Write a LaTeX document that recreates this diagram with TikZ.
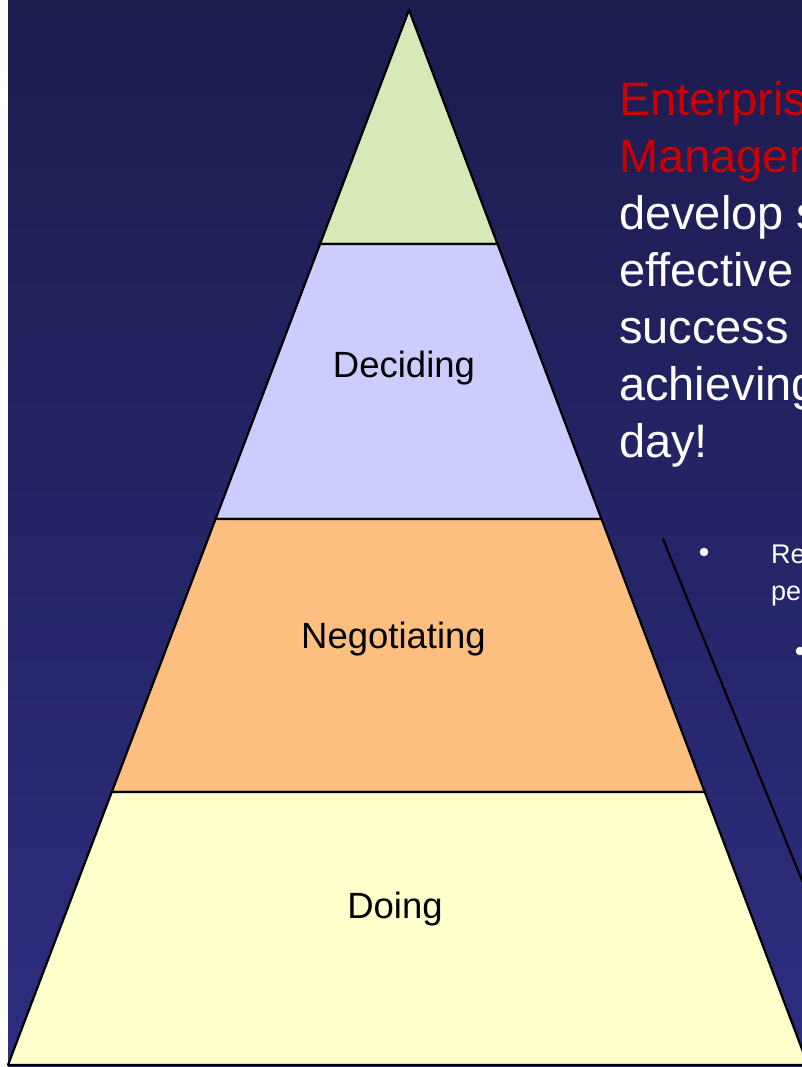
\documentclass[tikz,border=0pt]{standalone}
\usepackage{fontspec}
\setmainfont{Liberation Sans}
\usetikzlibrary{calc}
\definecolor{bgtop}{HTML}{1D1C4F}
\definecolor{bgbot}{HTML}{2D2D80}
\definecolor{tipgreen}{HTML}{D7E9B6}
\definecolor{decidefill}{HTML}{CCCCFF}
\definecolor{negofill}{HTML}{FDBF80}
\definecolor{dofill}{HTML}{FFFFCC}
\definecolor{riskred}{HTML}{CC0000}
\begin{document}
\begin{tikzpicture}[x=1pt,y=-1pt,line join=round,line cap=round]
	\tikzset{layer/.style={draw=black,line width=2.2pt},
		lbl/.style={font=\fontsize{36.5}{42}\selectfont,text=black,inner sep=0pt,anchor=base},
		bigtxt/.style={font=\fontsize{47}{57}\selectfont,text=white,inner sep=0pt,align=left},
		smalltxt/.style={font=\fontsize{27}{37}\selectfont,text=white,inner sep=0pt,anchor=base west},
		dot/.style={circle,fill=white,inner sep=0pt,minimum size=8.5pt}}
	\useasboundingbox (0,0) rectangle (802,1067);
	\clip (0,0) rectangle (802,1067);
	\fill[white] (0,0) rectangle (802,1067);
	\shade[top color=bgtop,bottom color=bgbot] (8,0) rectangle (802,1067);
	% pyramid corners and the three dividing levels
	\coordinate (top) at (409,10);
	\coordinate (bl) at (8,1065);
	\coordinate (br) at (808,1065);
	\coordinate (l1) at ($(top)!0.2218!(bl)$);
	\coordinate (r1) at ($(top)!0.2218!(br)$);
	\coordinate (l2) at ($(top)!0.4825!(bl)$);
	\coordinate (r2) at ($(top)!0.4825!(br)$);
	\coordinate (l3) at ($(top)!0.7412!(bl)$);
	\coordinate (r3) at ($(top)!0.7412!(br)$);
	\filldraw[layer,fill=tipgreen] (top) -- (r1) -- (l1) -- cycle;
	\filldraw[layer,fill=decidefill] (l1) -- (r1) -- (r2) -- (l2) -- cycle;
	\filldraw[layer,fill=negofill] (l2) -- (r2) -- (r3) -- (l3) -- cycle;
	\filldraw[layer,fill=dofill] (l3) -- (r3) -- (br) -- (bl) -- cycle;
	\node[lbl] (deciding) at (404,377) {Deciding};
	\node[lbl] (negotiating) at (393.5,648) {Negotiating};
	\node[lbl] (doing) at (395,918) {Doing};
	% side line next to the pyramid
	\coordinate (s1) at (663,539);
	\coordinate (s2) at (878,1067);
	\draw[line width=2.2pt] (s1) -- (s2);
	% text on the right
	\node[bigtxt,anchor=north west] (goal) at (619,81)
		{\textcolor{riskred}{Enterpris}\\\textcolor{riskred}{Managem}\\develop s\\effective\\success\\achieving\\day!};
	\node[dot] (b1) at (704,552) {};
	\node[smalltxt] (re) at (771,563) {Re};
	\node[smalltxt] (pe) at (771,600) {pe};
	\node[dot] (b2) at (800,651) {};
\end{tikzpicture}
\end{document}
